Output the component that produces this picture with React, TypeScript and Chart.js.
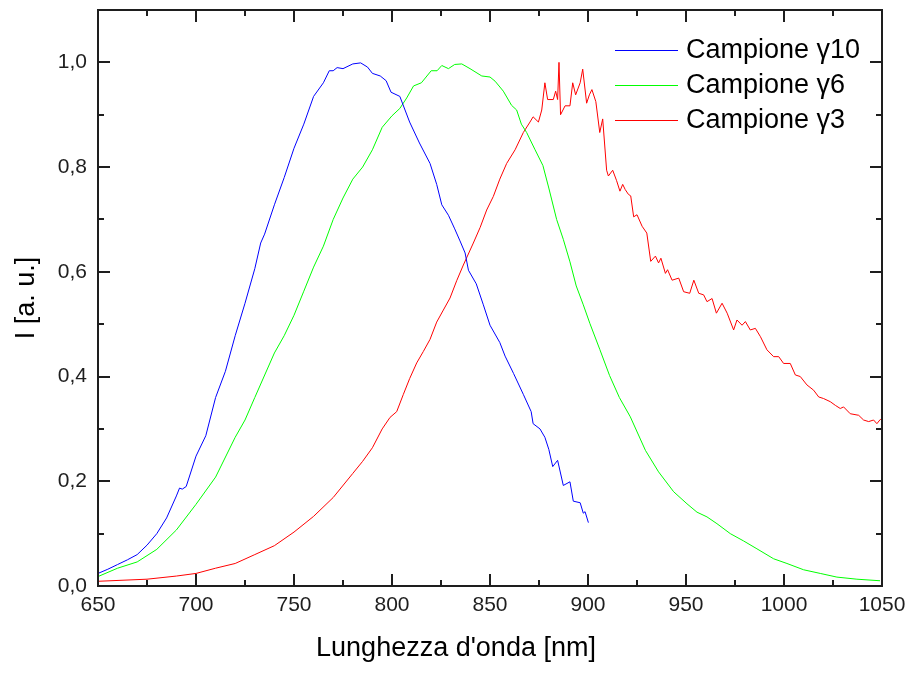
import React, { useEffect, useRef } from "react";
import { Chart, registerables } from "chart.js";

Chart.register(...registerables);

// ---- Data ----
const seriesLabels = ["Campione \u03b310", "Campione \u03b36", "Campione \u03b33"];
const seriesColors = ["#0000ff", "#00ff00", "#ff0000"];

const wavelengthG10 = [650, 655, 660, 665, 670, 675, 680, 685, 690, 691.6, 693, 695, 700, 705, 710, 715, 720, 725, 730, 733, 735, 740, 745, 750, 755, 760, 765, 768, 770, 772, 775, 780, 784, 787.5, 790, 794, 797, 799.5, 804, 809, 814, 819.4, 822.8, 825.4, 828.8, 832, 834.7, 837.3, 839, 843, 846.6, 850, 855, 857.7, 862, 867, 871, 872, 875.5, 878, 880, 882, 884.5, 887.4, 890.8, 892.5, 896, 897.6, 898.5, 900.2];
const intensityG10 = [0.024, 0.032, 0.041, 0.05, 0.06, 0.078, 0.1, 0.13, 0.172, 0.187, 0.185, 0.19, 0.248, 0.287, 0.36, 0.41, 0.478, 0.54, 0.606, 0.655, 0.672, 0.728, 0.78, 0.836, 0.882, 0.935, 0.961, 0.984, 0.984, 0.99, 0.988, 0.997, 0.999, 0.991, 0.979, 0.974, 0.965, 0.943, 0.935, 0.886, 0.846, 0.807, 0.767, 0.728, 0.708, 0.682, 0.659, 0.636, 0.603, 0.577, 0.537, 0.498, 0.465, 0.439, 0.406, 0.366, 0.333, 0.31, 0.3, 0.284, 0.261, 0.228, 0.24, 0.192, 0.199, 0.162, 0.159, 0.139, 0.142, 0.121];

const wavelengthG6 = [650, 660, 670, 680, 690, 700, 710, 720, 725, 730, 740, 745, 750, 755, 760, 765, 770, 775, 780, 785, 790, 795, 800, 804, 807.5, 811, 815, 820, 823, 825.4, 828.8, 832, 835.6, 839.8, 845.8, 850, 852.6, 856.8, 861, 863.6, 866, 868.7, 873, 877, 880, 884, 887.4, 890.8, 894, 897.6, 901, 906, 911, 916, 921.6, 929.3, 936, 943.7, 950.5, 955.6, 960.7, 965.8, 972.6, 979.4, 986.2, 994.7, 1001.5, 1010, 1018.5, 1027, 1037.2, 1049];
const intensityG6 = [0.018, 0.034, 0.046, 0.07, 0.107, 0.156, 0.208, 0.284, 0.317, 0.36, 0.445, 0.478, 0.517, 0.563, 0.609, 0.649, 0.7, 0.741, 0.777, 0.8, 0.833, 0.876, 0.898, 0.912, 0.932, 0.955, 0.961, 0.984, 0.984, 0.994, 0.988, 0.996, 0.997, 0.988, 0.974, 0.972, 0.964, 0.945, 0.918, 0.909, 0.882, 0.866, 0.833, 0.803, 0.76, 0.7, 0.662, 0.619, 0.573, 0.537, 0.501, 0.452, 0.402, 0.36, 0.323, 0.259, 0.218, 0.18, 0.157, 0.141, 0.132, 0.119, 0.1, 0.086, 0.071, 0.052, 0.043, 0.031, 0.024, 0.017, 0.013, 0.01];

const wavelengthG3 = [650, 675, 690, 700, 710, 720, 730, 740, 750, 760, 770, 780, 785, 790, 795, 799, 802.4, 805.8, 809, 812.6, 816, 819.4, 822.8, 826.2, 829.6, 833, 836.4, 841.5, 845, 848.3, 851.7, 855, 858.5, 862.8, 867, 870.4, 872, 874.7, 876.4, 878, 879.4, 882.3, 883.5, 884.5, 885.2, 886, 888.3, 890.8, 892.2, 893.7, 896, 897.3, 899.3, 900.7, 902, 904, 906, 907.5, 909.5, 910.4, 912.6, 914.6, 916.3, 917.7, 919, 920.6, 921.8, 923.3, 925, 927.6, 930, 932, 934.4, 936, 937.2, 939.5, 940.6, 942.9, 946.3, 948.8, 951.9, 954, 956.5, 959, 960.7, 963.3, 965.5, 968.4, 971, 974.3, 976, 978.6, 980.3, 982.8, 985.4, 988, 991.3, 994.7, 997.3, 999.8, 1003.2, 1005.8, 1008.3, 1011.7, 1015.1, 1017.7, 1020.2, 1023.6, 1026.2, 1028.7, 1030.4, 1033.8, 1038.1, 1040.6, 1043.2, 1045.7, 1047.4, 1049.1, 1050];
const intensityG3 = [0.009, 0.013, 0.019, 0.024, 0.034, 0.043, 0.06, 0.077, 0.103, 0.133, 0.169, 0.215, 0.238, 0.264, 0.3, 0.322, 0.333, 0.366, 0.396, 0.426, 0.448, 0.471, 0.504, 0.527, 0.55, 0.583, 0.613, 0.655, 0.685, 0.718, 0.744, 0.777, 0.807, 0.833, 0.866, 0.886, 0.896, 0.886, 0.909, 0.961, 0.929, 0.929, 0.945, 0.929, 1.0, 0.9, 0.917, 0.917, 0.961, 0.938, 0.961, 0.987, 0.922, 0.938, 0.948, 0.925, 0.866, 0.892, 0.794, 0.783, 0.794, 0.774, 0.754, 0.767, 0.757, 0.748, 0.745, 0.705, 0.709, 0.687, 0.674, 0.62, 0.63, 0.617, 0.626, 0.597, 0.604, 0.584, 0.588, 0.562, 0.559, 0.584, 0.559, 0.556, 0.543, 0.549, 0.521, 0.54, 0.521, 0.489, 0.508, 0.498, 0.505, 0.489, 0.492, 0.476, 0.451, 0.438, 0.438, 0.425, 0.425, 0.403, 0.4, 0.384, 0.374, 0.361, 0.358, 0.352, 0.345, 0.339, 0.342, 0.329, 0.326, 0.317, 0.314, 0.317, 0.31, 0.318, 0.318];

const xMin = 650;
const xMax = 1050;
const xTickValues = [650, 700, 750, 800, 850, 900, 950, 1000, 1050];
const yMin = 0;
const yMax = 1.1;
const yTickValues = [0, 0.2, 0.4, 0.6, 0.8, 1.0];
const xAxisTitle = "Lunghezza d'onda [nm]";
const yAxisTitle = "I [a. u.]";

const FONT = "'Liberation Sans', Arial, Helvetica, sans-serif";

function toPoints(xs: number[], ys: number[]) {
  return xs.map((x, i) => ({ x, y: ys[i] }));
}

function zeroPadding(scale: any) {
  scale.paddingTop = 0;
  scale.paddingBottom = 0;
  scale.paddingLeft = 0;
  scale.paddingRight = 0;
}

const framePlugin = {
  id: "frameTicks",
  afterDraw(chart: any) {
    const { ctx, chartArea } = chart;
    const { left, right, top, bottom } = chartArea;
    const xs = chart.scales.x;
    const ys = chart.scales.y;
    ctx.save();
    ctx.strokeStyle = "#1e1e1e";
    ctx.lineWidth = 2;
    ctx.lineCap = "butt";
    ctx.strokeRect(left, top, right - left, bottom - top);
    // x ticks (inward, bottom and top)
    for (let v = xMin; v <= xMax + 0.001; v += 25) {
      const px = Math.round(xs.getPixelForValue(v));
      const len = (v - xMin) % 50 === 0 ? 12 : 6;
      ctx.beginPath();
      ctx.moveTo(px, bottom);
      ctx.lineTo(px, bottom - len);
      ctx.moveTo(px, top);
      ctx.lineTo(px, top + len);
      ctx.stroke();
    }
    // y ticks (inward, left and right)
    for (let i = 0; i <= 11; i++) {
      const v = i / 10;
      const py = Math.round(ys.getPixelForValue(v));
      const len = i % 2 === 0 ? 12 : 6;
      ctx.beginPath();
      ctx.moveTo(left, py);
      ctx.lineTo(left + len, py);
      ctx.moveTo(right, py);
      ctx.lineTo(right - len, py);
      ctx.stroke();
    }
    // x axis title, centred on the figure
    ctx.fillStyle = "#000";
    ctx.font = `27px ${FONT}`;
    ctx.textAlign = "center";
    ctx.textBaseline = "middle";
    ctx.fillText(xAxisTitle, chart.width / 2, 649);

    // legend
    const lx0 = 615;
    const lx1 = 678;
    const tx = 686;
    const rowY = [50, 85, 120];
    ctx.textAlign = "left";
    chart.data.datasets.forEach((ds: any, i: number) => {
      ctx.strokeStyle = ds.borderColor;
      ctx.lineWidth = 1;
      ctx.beginPath();
      ctx.moveTo(lx0, rowY[i] + 0.5);
      ctx.lineTo(lx1, rowY[i] + 0.5);
      ctx.stroke();
      ctx.fillStyle = "#000";
      ctx.fillText(ds.label, tx, rowY[i] + 1);
    });
    ctx.restore();
  },
};

export default function App() {
  const canvasRef = useRef<HTMLCanvasElement | null>(null);

  useEffect(() => {
    document.body.style.margin = "0";
    const canvas = canvasRef.current;
    if (!canvas) return;
    const seriesX = [wavelengthG10, wavelengthG6, wavelengthG3];
    const seriesY = [intensityG10, intensityG6, intensityG3];
    const chart = new Chart(canvas, {
      type: "line",
      data: {
        datasets: seriesLabels.map((label, i) => ({
          label,
          data: toPoints(seriesX[i], seriesY[i]),
          borderColor: seriesColors[i],
          backgroundColor: seriesColors[i],
          borderWidth: 1,
          pointRadius: 0,
          tension: 0,
          fill: false,
        })),
      },
      options: {
        animation: false,
        responsive: false,
        maintainAspectRatio: false,
        layout: { autoPadding: false, padding: { top: 10, right: 30, left: 0, bottom: 0 } },
        plugins: {
          legend: { display: false },
          tooltip: { enabled: false },
        },
        scales: {
          x: {
            type: "linear",
            min: xMin,
            max: xMax,
            afterBuildTicks: (scale: any) => {
              scale.ticks = xTickValues.map((value) => ({ value }));
            },
            afterFit: (scale: any) => {
              scale.height = 88;
              zeroPadding(scale);
            },
            grid: { display: false, drawTicks: false },
            border: { display: false },
            ticks: {
              padding: 7,
              color: "#1e1e1e",
              font: { family: FONT, size: 21 },
              maxRotation: 0,
              autoSkip: false,
              callback: (v: any) => String(v),
            },
          },
          y: {
            type: "linear",
            min: yMin,
            max: yMax,
            afterBuildTicks: (scale: any) => {
              scale.ticks = yTickValues.map((value) => ({ value }));
            },
            afterFit: (scale: any) => {
              scale.width = 98;
              zeroPadding(scale);
            },
            grid: { display: false, drawTicks: false },
            border: { display: false },
            title: {
              display: true,
              text: yAxisTitle,
              color: "#000",
              font: { family: FONT, size: 27 },
              padding: { top: 10, bottom: 0 },
            },
            ticks: {
              padding: 11,
              color: "#1e1e1e",
              font: { family: FONT, size: 21 },
              autoSkip: false,
              callback: (v: any) => Number(v).toFixed(1).replace(".", ","),
            },
          },
        },
      },
      plugins: [framePlugin],
    });
    return () => chart.destroy();
  }, []);

  return (
    <div style={{ position: "fixed", left: 0, top: 0, width: 912, height: 674, background: "#fff" }}>
      <canvas ref={canvasRef} width={912} height={674} style={{ width: 912, height: 674, display: "block" }} />
    </div>
  );
}
